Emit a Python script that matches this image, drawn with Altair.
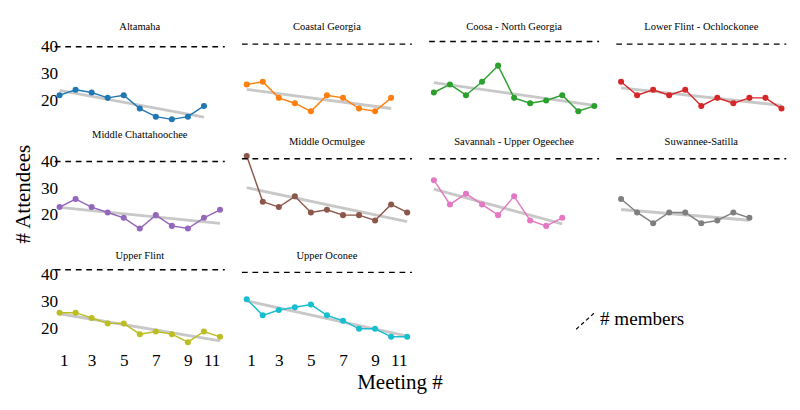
import altair as alt
import pandas as pd

regions = ["Altamaha", "Coastal Georgia", "Coosa - North Georgia", "Lower Flint - Ochlockonee",
           "Middle Chattahoochee", "Middle Ocmulgee", "Savannah - Upper Ogeechee", "Suwannee-Satilla",
           "Upper Flint", "Upper Oconee"]
attendees = [
    [22, 24, 23, 21, 22, 17, 14, 13, 14, 18],
    [26, 27, 21, 19, 16, 22, 21, 17, 16, 21],
    [23, 26, 22, 27, 33, 21, 19, 20, 22, 16, 18],
    [27, 22, 24, 22, 24, 18, 21, 19, 21, 21, 17],
    [23, 26, 23, 21, 19, 15, 20, 16, 15, 19, 22],
    [42, 25, 23, 27, 21, 22, 20, 20, 18, 24, 21],
    [33, 24, 28, 24, 20, 27, 18, 16, 19],
    [26, 21, 17, 21, 21, 17, 18, 21, 19],
    [26, 26, 24, 22, 22, 18, 19, 18, 15, 19, 17],
    [31, 25, 27, 28, 29, 25, 23, 20, 20, 17, 17],
]
members = [40, 41, 42, 41, 40, 41, 41, 41, 42, 41]
colors = ["#1f77b4", "#ff7f0e", "#2ca02c", "#d62728", "#9467bd",
          "#8c564b", "#e377c2", "#7f7f7f", "#bcbd22", "#17becf"]

FONT = "Liberation Serif"
W, H = 168, 90

def panel(i, show_x, show_y, ytitle=None):
    df = pd.DataFrame({"meeting": list(range(1, len(attendees[i]) + 1)), "att": attendees[i]})
    mdf = pd.DataFrame({"m": [members[i]]})
    xax = alt.Axis(values=[1, 3, 5, 7, 9, 11], labels=show_x, ticks=False, domain=False,
                   grid=False, title=None, labelFontSize=18, labelFont=FONT, labelColor="black",
                   labelPadding=2)
    yax = alt.Axis(values=[20, 30, 40], labels=show_y, ticks=False, domain=False, grid=False,
                   labelFontSize=18, labelFont=FONT, labelColor="black",
                   title=ytitle, titleFontSize=22, titleFont=FONT, titleFontWeight="normal",
                   titleColor="black", titlePadding=6)
    x = alt.X("meeting:Q", scale=alt.Scale(domain=[1, 11], nice=False), axis=xax)
    y = alt.Y("att:Q", scale=alt.Scale(domain=[12, 44], nice=False), axis=yax)
    base = alt.Chart(df)
    trend = base.transform_regression("meeting", "att").mark_line(
        color="#c8c8c8", strokeWidth=3).encode(x=x, y=y)
    line = base.mark_line(color=colors[i], strokeWidth=1.5).encode(x=x, y=y)
    pts = base.mark_circle(color=colors[i], size=40, opacity=1).encode(x=x, y=y)
    rule = alt.Chart(mdf).mark_rule(color="black", strokeDash=[6, 5], strokeWidth=1.5).encode(
        y=alt.Y("m:Q", scale=alt.Scale(domain=[12, 44], nice=False)),
        x=alt.value(-5), x2=alt.value(W + 5))
    return alt.layer(trend, line, pts, rule).properties(
        width=W, height=H,
        title=alt.TitleParams(regions[i], fontSize=11, font=FONT, fontWeight="normal", color="black"))

legdf = pd.DataFrame({"t": ["# members"]})
legend = alt.layer(
    alt.Chart(legdf).mark_rule(color="black", strokeDash=[4, 3], strokeWidth=1.2).encode(
        x=alt.value(155), x2=alt.value(175), y=alt.value(68), y2=alt.value(50)),
    alt.Chart(legdf).mark_text(align="left", baseline="middle", fontSize=20, font=FONT).encode(
        text="t:N", x=alt.value(180), y=alt.value(58)),
).properties(width=W, height=H, title=alt.TitleParams(" ", fontSize=11))

row1 = alt.hconcat(*[panel(i, False, i == 0) for i in range(4)], spacing=16)
row2 = alt.hconcat(*[panel(i, False, i == 4, "# Attendees" if i == 4 else None) for i in range(4, 8)], spacing=16)
row3 = alt.hconcat(panel(8, True, True), panel(9, True, False), legend, spacing=16)

chart = alt.vconcat(row1, row2, row3, spacing=6).properties(
    title=alt.TitleParams("Meeting #", orient="bottom", anchor="middle", fontSize=22, font=FONT,
                          fontWeight="normal", color="black", offset=4)
).configure_view(stroke=None).configure_title(font=FONT, fontWeight="normal", color="black")

chart.save("out.html", embed_options={"renderer": "svg", "actions": False})
